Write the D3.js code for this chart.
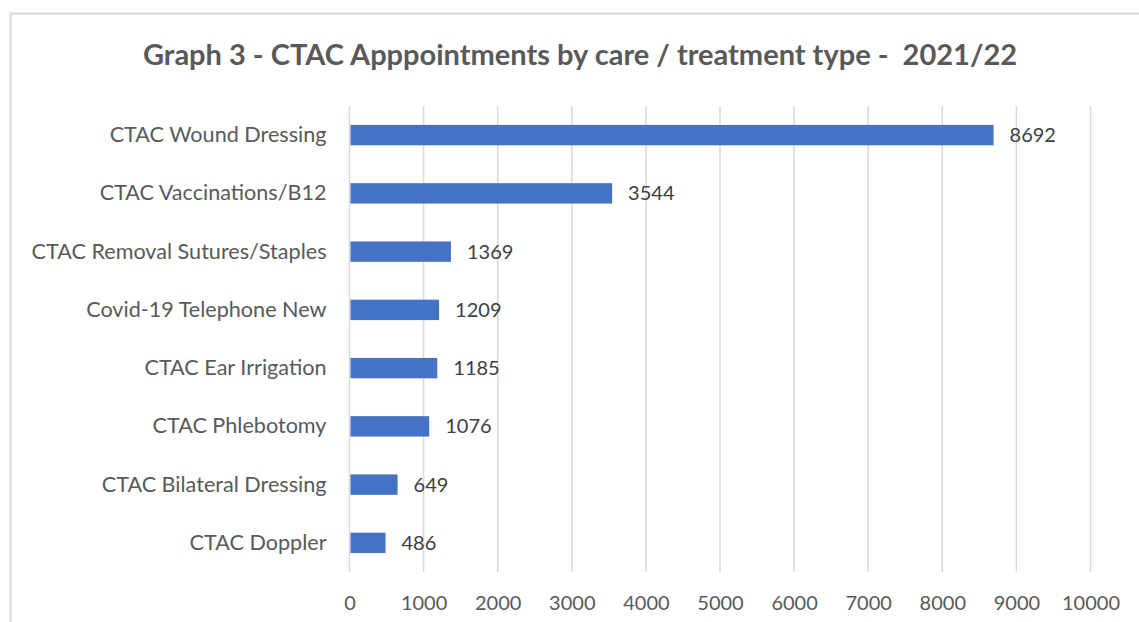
<!DOCTYPE html>
<html>
<head>
<meta charset="utf-8">
<script src="https://cdn.jsdelivr.net/npm/d3@7"></script>
<style>
  html, body { margin: 0; padding: 0; background: #ffffff; }
  svg { display: block; }
</style>
</head>
<body>
<svg id="chart" width="1139" height="622"></svg>
<script>
// Appointment counts by care / treatment type, 2021/22
const categories = [
  "CTAC Wound Dressing",
  "CTAC Vaccinations/B12",
  "CTAC Removal Sutures/Staples",
  "Covid-19 Telephone New",
  "CTAC Ear Irrigation",
  "CTAC Phlebotomy",
  "CTAC Bilateral Dressing",
  "CTAC Doppler"
];
const appointments = [8692, 3544, 1369, 1209, 1185, 1076, 649, 486];
const tickValues = [0, 1000, 2000, 3000, 4000, 5000, 6000, 7000, 8000, 9000, 10000];
const titleText = "Graph 3 - CTAC Apppointments by care / treatment type -  2021/22";

const rows = categories.map((c, i) => ({ category: c, value: appointments[i] }));

const svg = d3.select("#chart");
const font = "Lato, 'Open Sans', sans-serif";

// chart frame (only the top and left edges fall inside the view)
svg.append("rect")
  .attr("x", 10.5).attr("y", 13.5)
  .attr("width", 1200).attr("height", 700)
  .attr("fill", "none")
  .attr("stroke", "#d9d9d9")
  .attr("stroke-width", 2);

svg.append("text")
  .attr("x", 580).attr("y", 65)
  .attr("text-anchor", "middle")
  .attr("font-family", font)
  .attr("font-weight", "bold")
  .attr("font-size", 29)
  .attr("fill", "#595959")
  .attr("xml:space", "preserve")
  .style("white-space", "pre")
  .text(titleText);

const x = d3.scaleLinear().domain([0, 10000]).range([349.5, 1090.5]);
const y = d3.scaleBand().domain(categories).range([106, 572])
  .paddingInner(0.65).paddingOuter(0.325);

// vertical gridlines
svg.append("g")
  .selectAll("line")
  .data(tickValues)
  .join("line")
  .attr("x1", d => x(d)).attr("x2", d => x(d))
  .attr("y1", 106).attr("y2", 572)
  .attr("stroke", "#d9d9d9")
  .attr("stroke-width", 1.5);

// value axis tick labels
const xAxis = svg.append("g")
  .attr("transform", "translate(0,595)")
  .call(d3.axisBottom(x).tickValues(tickValues).tickSize(0).tickPadding(0).tickFormat(d3.format("d")));
xAxis.select(".domain").remove();
xAxis.selectAll("text")
  .attr("font-family", font)
  .attr("font-size", 20)
  .attr("fill", "#595959")
  .attr("dy", "0.75em");

// bars
svg.append("g")
  .selectAll("rect")
  .data(rows)
  .join("rect")
  .attr("x", x(0) + 1)
  .attr("y", d => y(d.category))
  .attr("width", d => x(d.value) - x(0) - 1)
  .attr("height", y.bandwidth())
  .attr("fill", "#4472c4");

// category labels
const yAxis = svg.append("g")
  .attr("transform", `translate(${x(0)},0)`)
  .call(d3.axisLeft(y).tickSize(0).tickPadding(23));
yAxis.select(".domain").remove();
yAxis.selectAll("text")
  .attr("font-family", font)
  .attr("font-size", 21.6)
  .attr("fill", "#595959");

// value labels
svg.append("g")
  .selectAll("text")
  .data(rows)
  .join("text")
  .attr("x", d => x(d.value) + 16)
  .attr("y", d => y(d.category) + y.bandwidth() / 2)
  .attr("dy", "0.35em")
  .attr("font-family", font)
  .attr("font-size", 20)
  .attr("fill", "#404040")
  .text(d => d.value);
</script>
</body>
</html>
